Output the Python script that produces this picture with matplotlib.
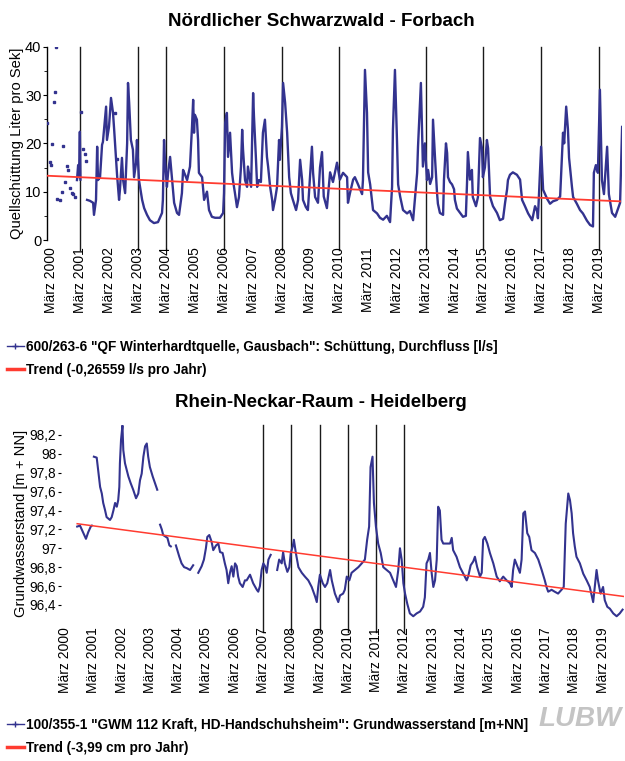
import numpy as np
import matplotlib
matplotlib.use('Agg')
import matplotlib.pyplot as plt
from matplotlib.lines import Line2D

plt.rcParams['font.family'] = ['Liberation Sans', 'DejaVu Sans']

# ---- Forbach (Quellschuettung l/s) -------------------------------------
# isolated single readings 2000 - 2002
fb_dot_t = [2000.02, 2000.13, 2000.16, 2000.19, 2000.26, 2000.30, 2000.33, 2000.37,
            2000.47, 2000.54, 2000.58, 2000.65, 2000.71, 2000.75, 2000.82, 2000.89,
            2000.92, 2000.99, 2001.20, 2001.27, 2001.34, 2001.37, 2002.38, 2002.45]
fb_dot_v = [24.3, 16.2, 15.5, 19.8, 28.5, 30.6, 40.0, 8.5,
            8.3, 10.0, 19.5, 12.0, 15.3, 14.4, 10.8, 9.8,
            9.6, 8.9, 26.5, 18.9, 17.8, 16.4, 26.3, 16.8]

# continuous record (nan = gap)
fb_t = [2001.06, 2001.10, 2001.13, 2001.16, 2001.18, 2001.30,
        2001.41, 2001.51, 2001.62, 2001.65, 2001.72, 2001.76, 2001.79, 2001.86, 2001.93, 2001.96,
        2002.07, 2002.10, 2002.17, 2002.24, 2002.31, 2002.35, 2002.45, 2002.52, 2002.55, 2002.62,
        2002.66, 2002.73, 2002.80, 2002.83, 2002.87, 2002.93, 2003.00, 2003.04, 2003.11, 2003.14,
        2003.21, 2003.32, 2003.39, 2003.49, 2003.59, 2003.73, 2003.87, 2004.01, 2004.04, 2004.08,
        2004.11, 2004.18, 2004.22, 2004.29, 2004.36, 2004.43, 2004.53, 2004.60, 2004.70, 2004.74,
        2004.81, 2004.88, 2004.98, 2005.05, 2005.09, 2005.12, 2005.15, 2005.22, 2005.26, 2005.29,
        2005.40, 2005.47, 2005.57, 2005.64, 2005.74, 2005.85, 2006.02, 2006.13, 2006.16, 2006.20,
        2006.26, 2006.30, 2006.37, 2006.44, 2006.47, 2006.54, 2006.61, 2006.68, 2006.75, 2006.79,
        2006.82, 2006.89, 2006.96, 2006.99, 2007.10, 2007.17, 2007.20, 2007.27, 2007.31, 2007.37,
        2007.44, 2007.51, 2007.58, 2007.65, 2007.69, 2007.76, 2007.83, 2007.86, 2007.93, 2008.00,
        2008.07, 2008.10, 2008.17, 2008.21, 2008.28, 2008.35, 2008.42, 2008.48, 2008.55, 2008.66,
        2008.73, 2008.80, 2008.87, 2008.90, 2009.00, 2009.07, 2009.21, 2009.25, 2009.32, 2009.42,
        2009.49, 2009.56, 2009.62, 2009.73, 2009.84, 2009.94, 2010.08, 2010.18, 2010.29, 2010.43,
        2010.46, 2010.53, 2010.64, 2010.70, 2010.81, 2010.95, 2010.98, 2011.05, 2011.12, 2011.16,
        2011.23, 2011.33, 2011.47, 2011.57, 2011.68, 2011.81, 2011.92, 2011.99, 2012.02, 2012.09,
        2012.16, 2012.20, 2012.27, 2012.37, 2012.51, 2012.61, 2012.72, 2012.79, 2012.86, 2012.89,
        2012.99, 2013.06, 2013.13, 2013.20, 2013.24, 2013.31, 2013.38, 2013.41, 2013.48, 2013.55,
        2013.58, 2013.65, 2013.76, 2013.79, 2013.86, 2013.90, 2013.93, 2014.00, 2014.07, 2014.14,
        2014.17, 2014.24, 2014.35, 2014.45, 2014.55, 2014.59, 2014.62, 2014.69, 2014.76, 2014.79,
        2014.90, 2014.97, 2015.04, 2015.11, 2015.14, 2015.21, 2015.28, 2015.32, 2015.39, 2015.49,
        2015.63, 2015.73, 2015.84, 2015.91, 2015.98, 2016.01, 2016.08, 2016.18, 2016.32, 2016.43,
        2016.50, 2016.60, 2016.71, 2016.85, 2016.95, 2017.02, 2017.05, 2017.16, 2017.23, 2017.37,
        2017.47, 2017.57, 2017.71, 2017.82, 2017.92, 2017.96, 2018.03, 2018.09, 2018.13, 2018.23,
        2018.27, 2018.40, 2018.51, 2018.61, 2018.75, 2018.86, 2018.96, 2018.99, 2019.06, 2019.13,
        2019.20, 2019.27, 2019.34, 2019.45, 2019.51, 2019.62, 2019.73, 2019.83, 2019.90, 2019.97]
fb_v = [12.4, 15.5, 13.0, 22.4, 12.5, np.nan,
        8.3, 8.1, 7.7, 5.2, 8.3, 19.3, 12.4, 13.0, 19.7, 20.3,
        27.6, 20.7, 23.4, 29.4, 26.3, 22.8, 13.5, 8.3, 10.4, 17.0,
        12.4, 9.7, 20.0, 32.5, 28.4, 20.7, 18.7, 13.0, 16.0, 20.7,
        12.4, 8.3, 6.6, 5.2, 4.1, 3.5, 3.7, 5.6, 8.3, 20.7,
        16.6, 11.0, 13.9, 17.2, 12.4, 7.7, 5.6, 5.2, 9.7, 14.5,
        13.5, 12.4, 15.2, 23.4, 29.0, 22.2, 25.9, 24.9, 20.7, 13.9,
        13.0, 8.3, 10.0, 6.2, 4.8, 4.6, 4.6, 5.6, 9.7, 24.2,
        26.3, 17.2, 22.2, 13.9, 12.4, 9.7, 6.8, 8.9, 15.2, 22.8,
        18.7, 12.4, 11.0, 15.2, 11.0, 30.4, 25.5, 16.6, 11.0, 12.4,
        12.0, 22.2, 24.9, 17.2, 15.2, 11.0, 8.3, 6.2, 8.3, 11.0,
        20.7, 16.6, 23.4, 32.5, 28.4, 22.2, 13.0, 9.7, 8.3, 6.2,
        8.3, 16.6, 12.4, 8.3, 6.8, 6.2, 19.3, 13.9, 8.9, 7.7,
        15.0, 18.2, 9.0, 6.6, 14.0, 12.0, 16.0, 12.5, 13.9, 13.0,
        7.7, 9.7, 12.5, 13.0, 11.5, 9.5, 12.4, 35.2, 26.3, 14.0,
        11.5, 6.2, 5.5, 4.6, 4.2, 5.0, 3.7, 11.0, 22.8, 35.2,
        20.7, 11.5, 9.0, 6.2, 5.5, 6.0, 4.1, 8.9, 13.9, 19.3,
        32.5, 15.2, 20.0, 12.4, 14.5, 11.6, 13.0, 24.9, 17.0, 9.7,
        7.5, 5.6, 5.2, 12.4, 20.0, 18.0, 13.0, 12.0, 11.5, 10.5,
        8.3, 6.5, 5.6, 4.8, 5.0, 11.8, 18.2, 12.5, 14.5, 8.9,
        7.0, 8.9, 21.1, 19.0, 13.0, 15.0, 20.7, 19.0, 8.9, 7.0,
        5.6, 4.1, 4.4, 7.7, 10.5, 12.4, 13.5, 14.0, 13.5, 12.5,
        8.3, 7.0, 5.5, 4.1, 7.0, 6.0, 4.5, 19.3, 10.4, 8.5,
        7.5, 8.0, 8.3, 9.0, 22.2, 20.0, 27.6, 23.0, 17.0, 11.0,
        8.9, 7.5, 6.2, 5.5, 4.0, 3.1, 2.8, 13.9, 15.5, 13.9,
        31.1, 12.4, 9.5, 19.3, 9.5, 5.6, 4.8, 6.5, 7.7, 23.4]

fb_trend_t = [2000.02, 2019.90]
fb_trend_v = [13.3, 8.0]
fb_marks = [2001, 2003, 2004, 2006, 2008, 2010, 2013, 2015, 2017, 2019]

# ---- Heidelberg (Grundwasserstand m+NN) --------------------------------
hd_t = [2000.59, 2000.69, 2000.81, 2000.90, 2000.98, 2001.07, 2001.11, 2001.15,
        2001.18, 2001.28, 2001.34, 2001.40, 2001.46, 2001.51, 2001.57, 2001.63, 2001.75, 2001.81,
        2001.87, 2001.93, 2001.99, 2002.04, 2002.08, 2002.10, 2002.14, 2002.19, 2002.22, 2002.28,
        2002.34, 2002.40, 2002.48, 2002.57, 2002.67, 2002.75, 2002.81, 2002.87, 2002.93, 2002.99,
        2003.05, 2003.10, 2003.16, 2003.26, 2003.34, 2003.42, 2003.47,
        2003.52, 2003.58, 2003.63, 2003.73, 2003.78, 2003.85, 2003.90, 2004.00,
        2004.08, 2004.13, 2004.20, 2004.28, 2004.37, 2004.46, 2004.58, 2004.69, 2004.78,
        2004.87, 2004.99, 2005.07, 2005.14, 2005.19, 2005.26, 2005.34, 2005.40, 2005.50, 2005.58,
        2005.64, 2005.73, 2005.81, 2005.87, 2005.93, 2005.99, 2006.05, 2006.11, 2006.17, 2006.23,
        2006.28, 2006.34, 2006.44, 2006.52, 2006.58, 2006.70, 2006.81, 2006.94, 2006.99, 2007.05,
        2007.11, 2007.17, 2007.23, 2007.29, 2007.35, 2007.43, 2007.55,
        2007.66, 2007.73, 2007.82, 2007.87, 2007.93, 2008.02, 2008.09, 2008.14, 2008.21, 2008.25,
        2008.32, 2008.41, 2008.53, 2008.64, 2008.76, 2008.88, 2009.00, 2009.06, 2009.11, 2009.17,
        2009.27, 2009.35, 2009.43, 2009.53, 2009.59, 2009.70, 2009.82, 2009.88, 2009.99, 2010.05,
        2010.12, 2010.21, 2010.29, 2010.41, 2010.53, 2010.65, 2010.76, 2010.84, 2010.91, 2010.96,
        2011.03, 2011.08, 2011.15, 2011.23, 2011.32, 2011.41, 2011.53, 2011.65, 2011.76, 2011.86,
        2011.94, 2012.00, 2012.06, 2012.12, 2012.18, 2012.26, 2012.35, 2012.47, 2012.59, 2012.71,
        2012.82, 2012.88, 2012.94, 2013.00, 2013.06, 2013.12, 2013.18, 2013.24, 2013.30, 2013.35,
        2013.41, 2013.47, 2013.53, 2013.65, 2013.77, 2013.83, 2013.88, 2014.00, 2014.12, 2014.24,
        2014.36, 2014.41, 2014.50, 2014.59, 2014.65, 2014.73, 2014.83, 2014.89, 2014.94, 2015.00,
        2015.09, 2015.18, 2015.30, 2015.42, 2015.53, 2015.65, 2015.77, 2015.89, 2015.95, 2016.00,
        2016.06, 2016.15, 2016.24, 2016.30, 2016.36, 2016.42, 2016.50, 2016.57, 2016.65, 2016.77,
        2016.89, 2017.01, 2017.12, 2017.18, 2017.24, 2017.36, 2017.47, 2017.59, 2017.71, 2017.79,
        2017.86, 2017.95, 2018.01, 2018.07, 2018.12, 2018.18, 2018.24, 2018.36, 2018.48, 2018.60,
        2018.71, 2018.83, 2018.95, 2019.00, 2019.09, 2019.18, 2019.24, 2019.33, 2019.42, 2019.54,
        2019.66, 2019.77, 2019.87]
hd_v = [97.23, 97.24, 97.16, 97.10, 97.17, 97.23, 97.24, np.nan,
        97.97, 97.96, 97.80, 97.65, 97.58, 97.48, 97.41, 97.33, 97.30, 97.33,
        97.40, 97.48, 97.44, 97.51, 97.65, 97.90, 98.15, 98.30, 98.04, 97.90,
        97.83, 97.76, 97.69, 97.62, 97.53, 97.58, 97.72, 97.79, 97.97, 98.08,
        98.11, 97.97, 97.86, 97.76, 97.69, 97.62, np.nan,
        97.25, 97.20, 97.14, 97.12, 97.11, 97.03, 97.02, np.nan,
        97.03, 96.98, 96.91, 96.84, 96.80, 96.79, 96.77, 96.82, np.nan,
        96.74, 96.81, 96.88, 97.00, 97.12, 97.14, 97.07, 96.98, 97.03, 97.05,
        96.96, 96.95, 96.84, 96.77, 96.63, 96.74, 96.81, 96.70, 96.84, 96.81,
        96.70, 96.63, 96.59, 96.66, 96.66, 96.72, 96.63, 96.56, 96.54, 96.60,
        96.77, 96.84, 96.81, 96.74, 96.88, 96.93, np.nan,
        96.77, 96.88, 96.84, 96.96, 96.84, 96.75, 96.80, 96.95, 97.02, 97.09,
        96.95, 96.80, 96.74, 96.70, 96.66, 96.59, 96.49, 96.43, 96.59, 96.72,
        96.63, 96.59, 96.63, 96.77, 96.66, 96.52, 96.43, 96.50, 96.52, 96.56,
        96.70, 96.66, 96.74, 96.77, 96.80, 96.84, 96.88, 97.09, 97.23, 97.86,
        97.97, 97.48, 97.23, 97.05, 96.95, 96.80, 96.77, 96.74, 96.66, 96.59,
        96.77, 97.00, 96.88, 96.63, 96.52, 96.41, 96.31, 96.28, 96.31, 96.33,
        96.38, 96.48, 96.84, 96.88, 96.95, 96.74, 96.59, 96.66, 96.88, 97.44,
        97.40, 97.09, 97.05, 97.05, 97.05, 97.11, 96.98, 96.91, 96.80, 96.73,
        96.66, 96.70, 96.82, 96.86, 96.91, 96.80, 96.70, 96.74, 97.09, 97.12,
        97.05, 96.95, 96.84, 96.70, 96.65, 96.70, 96.66, 96.63, 96.59, 96.77,
        96.88, 96.81, 96.74, 96.88, 97.37, 97.39, 97.16, 97.12, 96.98, 96.95,
        96.88, 96.77, 96.66, 96.59, 96.54, 96.56, 96.54, 96.52, 96.56, 96.59,
        97.26, 97.58, 97.51, 97.37, 97.16, 97.02, 96.91, 96.84, 96.73, 96.66,
        96.59, 96.43, 96.77, 96.66, 96.52, 96.59, 96.45, 96.38, 96.36, 96.31,
        96.28, 96.31, 96.35]

hd_trend_t = [2000.59, 2019.90]
hd_trend_v = [97.26, 96.49]
hd_marks = [2007, 2008, 2009, 2010, 2011, 2012]

years = list(range(2000, 2020))
tick_labels = ['März %d' % y for y in years]

blue = '#33338f'
red = '#ff3b30'
W, H = 625, 761

fig = plt.figure(figsize=(W / 100, H / 100), dpi=100)

def frac(x0, y0, x1, y1):
    return [x0 / W, 1 - y1 / H, (x1 - x0) / W, (y1 - y0) / H]

def mar(y):
    return y + 0.16

def style_x(ax, marks, pad):
    ax.set_xticks([mar(y) for y in years])
    ax.set_xticklabels(tick_labels, rotation=90, fontsize=10)
    ax.tick_params(axis='x', length=0, pad=pad)
    for y in marks:
        ax.axvline(mar(y), ymin=-0.05, ymax=1, color='#1a1a1a', lw=1.0,
                   clip_on=False, zorder=1)

# top chart
ax1 = fig.add_axes(frac(47, 46.7, 622.4, 240))
ax1.plot(fb_t, fb_v, color=blue, lw=1.7, zorder=3)
ax1.plot(fb_dot_t, fb_dot_v, ls='none', marker='s', ms=1.8, mec=blue, mfc=blue, zorder=3)
ax1.plot(fb_trend_t, fb_trend_v, color=red, lw=1.3, zorder=4)
ax1.set_xlim(2000.02, 2019.98)
ax1.set_ylim(0, 40)
ax1.set_yticks([0, 10, 20, 30, 40])
ax1.set_yticks([5, 15, 25, 35], minor=True)
ax1.tick_params(axis='y', which='major', length=3, labelsize=10.5, pad=1)
ax1.tick_params(axis='y', which='minor', length=2)
for s in ['top', 'right', 'bottom']:
    ax1.spines[s].set_visible(False)
ax1.spines['left'].set_linewidth(1.0)
style_x(ax1, fb_marks, 5)
ax1.set_ylabel('Quellschüttung Liter pro Sek]', fontsize=10.6, labelpad=1)
fig.text(321 / W, 1 - 22 / H, 'Nördlicher Schwarzwald - Forbach', ha='center', va='center',
         fontsize=13.5, fontweight='bold')

# bottom chart
ax2 = fig.add_axes(frac(60.5, 424.6, 624, 621.9))
ax2.plot(hd_t, hd_v, color=blue, lw=1.5, zorder=3)
ax2.plot(hd_trend_t, hd_trend_v, color=red, lw=1.1, zorder=4)
ax2.set_xlim(2000.0, 2019.92)
ax2.set_ylim(96.22, 98.31)
hd_ticks = [96.4, 96.6, 96.8, 97.0, 97.2, 97.4, 97.6, 97.8, 98.0, 98.2]
ax2.set_yticks(hd_ticks)
ax2.set_yticklabels(['96,4', '96,6', '96,8', '97', '97,2', '97,4', '97,6', '97,8', '98', '98,2'])
ax2.tick_params(axis='y', length=2, labelsize=9.8, pad=1)
for s in ax2.spines.values():
    s.set_visible(False)
style_x(ax2, hd_marks, 4)
ax2.set_ylabel('Grundwasserstand [m + NN]', fontsize=10.6, labelpad=1)
fig.text(321 / W, 1 - 402 / H, 'Rhein-Neckar-Raum - Heidelberg', ha='center', va='center',
         fontsize=13.5, fontweight='bold')

# legends
def legend(y, lab1, lab2):
    h1 = Line2D([], [], color=blue, lw=1.0, marker='+', ms=5, mew=1.0)
    h2 = Line2D([], [], color=red, lw=2.5)
    fig.legend([h1, h2], [lab1, lab2], loc='upper left',
               bbox_to_anchor=(0.0, 1 - y / H), frameon=False,
               prop={'weight': 'bold', 'size': 9.8}, handlelength=1.25,
               handletextpad=0.15, labelspacing=0.68, borderpad=0.3, borderaxespad=0.2)

legend(333, '600/263-6 "QF Winterhardtquelle, Gausbach": Schüttung, Durchfluss [l/s]',
       'Trend (-0,26559 l/s pro Jahr)')
legend(711, '100/355-1 "GWM 112 Kraft, HD-Handschuhsheim": Grundwasserstand [m+NN]',
       'Trend (-3,99 cm pro Jahr)')

fig.text(580 / W, 1 - 719 / H, 'LUBW', ha='center', va='center', fontsize=20,
         fontweight='bold', fontstyle='italic', color='#c4c4c4',
         family=['Liberation Sans Narrow', 'Liberation Sans'])

fig.savefig('out.png', dpi=100)
